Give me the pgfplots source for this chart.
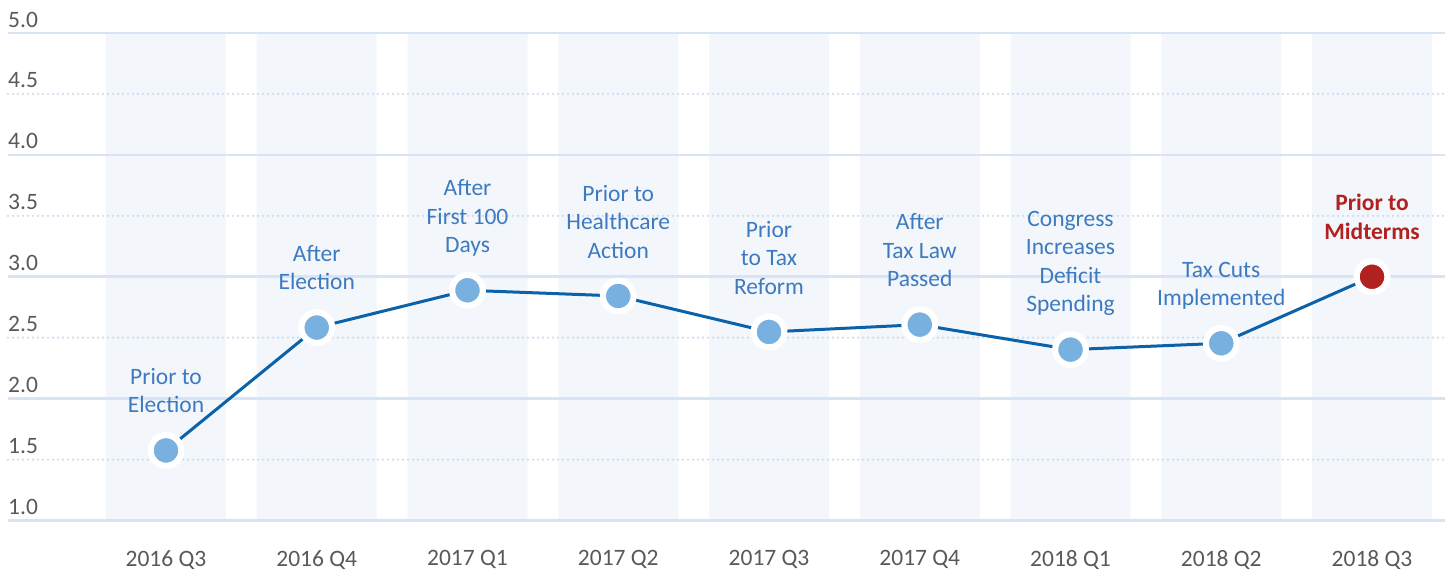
\documentclass[border=0pt]{standalone}
\usepackage{pgfplots}
\pgfplotsset{compat=1.18}
\usepackage{fontspec}
\setmainfont{Carlito}
\definecolor{gridc}{HTML}{D6E4F5}
\definecolor{dotc}{HTML}{CCDDF2}
\definecolor{bandc}{HTML}{F3F7FC}
\definecolor{linec}{HTML}{0B62A8}
\definecolor{markc}{HTML}{78B0E0}
\definecolor{redc}{HTML}{B0211F}
\definecolor{labc}{HTML}{3D7ABF}
\definecolor{tickc}{HTML}{595959}
\tikzset{lab/.style={labc, align=center, anchor=south, inner sep=0pt, yshift=33.5pt, font=\fontsize{23.5}{28.5}\selectfont}}
\begin{document}
\begin{tikzpicture}
\begin{axis}[
  set layers,
  scale only axis, width=1437pt, height=487.5pt,
  xmin=-1.048, xmax=8.484, ymin=1, ymax=5,
  axis line style={draw=none},
  major tick length=0pt, minor tick length=0pt,
  xtick={0,...,8},
  xticklabels={2016 Q3,2016 Q4,2017 Q1,2017 Q2,2017 Q3,2017 Q4,2018 Q1,2018 Q2,2018 Q3},
  ytick={1,2,3,4,5}, minor ytick={1.5,2.5,3.5,4.5},
  extra y ticks={1.5,2.5,3.5,4.5},
  extra y tick style={ymajorgrids=false},
  ymajorgrids, yminorgrids,
  major grid style={gridc, line width=2.6pt},
  minor grid style={dotc, line width=2.6pt, line cap=round, dash pattern=on 0pt off 5pt},
  yticklabel style={anchor=south west, inner sep=0pt, yshift=5.6pt},
  xticklabel style={anchor=north, inner sep=0pt, yshift=-30pt},
  ticklabel style={font=\fontsize{23.5}{28}\selectfont, text=tickc},
  yticklabel={\pgfmathprintnumber[fixed,fixed zerofill,precision=1]{\tick}},
  /pgf/number format/assume math mode=true,
]
\addplot[ybar, bar width=120pt, fill=bandc, draw=none, on layer=axis background]
  coordinates {(0,5) (1,5) (2,5) (3,5) (4,5) (5,5) (6,5) (7,5) (8,5)};
\addplot[linec, line width=3pt, mark=none]
  coordinates {(0,1.575) (1,2.583) (2,2.889) (3,2.842) (4,2.547) (5,2.607) (6,2.402) (7,2.454) (8,3.0)};
\addplot[only marks, mark=*, mark size=15.35pt, mark options={fill=markc, draw=white, line width=6.1pt}]
  coordinates {(0,1.575) (1,2.583) (2,2.889) (3,2.842) (4,2.547) (5,2.607) (6,2.402) (7,2.454)};
\addplot[only marks, mark=*, mark size=15.35pt, mark options={fill=redc, draw=white, line width=6.1pt}]
  coordinates {(8,3.0)};
\node[lab] at (axis cs:0,1.575) {Prior to\\Election\vphantom{g}};
\node[lab] at (axis cs:1,2.583) {After\\Election\vphantom{g}};
\node[lab] at (axis cs:2,2.889) {After\\First 100\\Days\vphantom{g}};
\node[lab] at (axis cs:3,2.842) {Prior to\\Healthcare\\Action\vphantom{g}};
\node[lab] at (axis cs:4,2.547) {Prior\\to Tax\\Reform\vphantom{g}};
\node[lab] at (axis cs:5,2.607) {After\\Tax Law\\Passed\vphantom{g}};
\node[lab] at (axis cs:6,2.402) {Congress\\Increases\\Deficit\\Spending\vphantom{g}};
\node[lab] at (axis cs:7,2.454) {Tax Cuts\\Implemented\vphantom{g}};
\node[lab, text=redc, font=\fontsize{23.5}{28.5}\selectfont\bfseries] at (axis cs:8,3.0) {Prior to\\Midterms\vphantom{g}};
\coordinate (bl) at (rel axis cs:0,0);
\coordinate (tr) at (rel axis cs:1,1);
\end{axis}
\pgfresetboundingbox
\path ([shift={(-8pt,-53pt)}]bl) rectangle ([shift={(8pt,33pt)}]tr);
\end{tikzpicture}
\end{document}
